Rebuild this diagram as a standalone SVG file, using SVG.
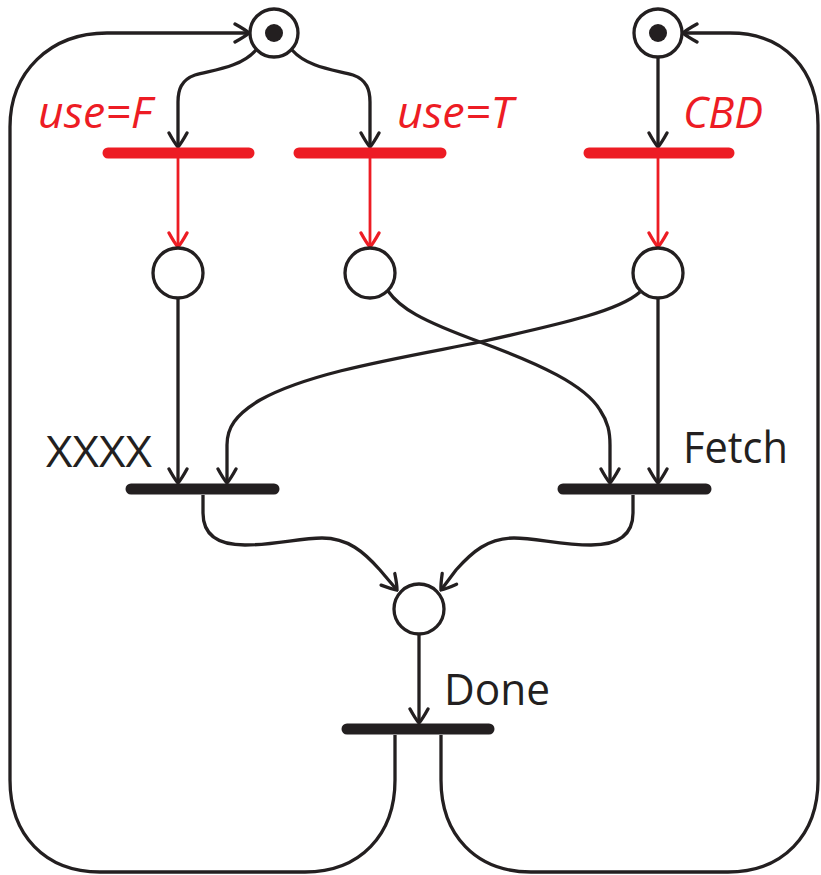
<svg xmlns="http://www.w3.org/2000/svg" width="821" height="875" viewBox="0 0 821 875">
<style>
.arc{fill:none;stroke:#231f20;stroke-width:3.3}
.red{fill:none;stroke:#ed1c24;stroke-width:2.8}
.place{fill:#fff;stroke:#231f20;stroke-width:3.3}
.tok{fill:#231f20}
.bar{stroke:#231f20;stroke-width:11;stroke-linecap:round}
.rbar{stroke:#ed1c24;stroke-width:11;stroke-linecap:round}
.lbl{font-family:"Open Sans","Noto Sans",sans-serif;font-size:44px;fill:#231f20}
.rlbl{font-family:"Open Sans","Noto Sans",sans-serif;font-size:44px;font-style:italic;fill:#ed1c24}
</style>
<defs>
<marker id="ah" markerUnits="userSpaceOnUse" viewBox="-18 -12 20 24" markerWidth="20" markerHeight="24" refX="0" refY="0" orient="auto">
<path d="M-14,-9 Q-4,-3.5 0,0 Q-4,3.5 -14,9" fill="none" stroke="#231f20" stroke-width="3.3" stroke-linecap="round"/>
</marker>
<marker id="ahr" markerUnits="userSpaceOnUse" viewBox="-18 -12 20 24" markerWidth="20" markerHeight="24" refX="0" refY="0" orient="auto">
<path d="M-14,-9 Q-4,-3.5 0,0 Q-4,3.5 -14,9" fill="none" stroke="#ed1c24" stroke-width="3.3" stroke-linecap="round"/>
</marker>
</defs>
<g id="connectors">
<path class="arc" d="M256,50 C240,68 212,70 195,75 C181,80 178,90 178,102 L178,147" marker-end="url(#ah)"/>
<path class="arc" d="M292,50 C308,68 336,70 353,75 C367,80 370,90 370,102 L370,147" marker-end="url(#ah)"/>
<path class="arc" d="M658,57 L658,147" marker-end="url(#ah)"/>
<path class="red" d="M178,153 L178,247" marker-end="url(#ahr)"/>
<path class="red" d="M370,153 L370,247" marker-end="url(#ahr)"/>
<path class="red" d="M658,153 L658,247" marker-end="url(#ahr)"/>
<path class="arc" d="M178,298 L178,483" marker-end="url(#ah)"/>
<path class="arc" d="M658,298 L658,483" marker-end="url(#ah)"/>
<path class="arc" d="M640,292 C620,310 570,322 480,342 C400,358 310,372 260,400 C235,415 227,428 227,445 L227,483" marker-end="url(#ah)"/>
<path class="arc" d="M388,291 C400,308 420,320 480,342 C540,364 585,385 600,410 C608,422 610,432 610,445 L610,483" marker-end="url(#ah)"/>
<path class="arc" d="M203,495 L203,513 C203,537 220,545 245,545 C275,545 300,538 322,538 C348,538 364,552 380,570 L397,590" marker-end="url(#ah)"/>
<path class="arc" d="M633,495 L633,513 C633,537 616,545 591,545 C561,545 536,538 514,538 C488,538 472,552 456,570 L441,590" marker-end="url(#ah)"/>
<path class="arc" d="M419,634 L419,723" marker-end="url(#ah)"/>
<path class="arc" d="M395,735 L395,780 C395,835 360,872 305,872 L100,872 C45,872 10,835 10,780 L10,127 C10,72 50,33 107,33 L249,33" marker-end="url(#ah)"/>
<path class="arc" d="M441,735 L441,780 C441,835 476,872 531,872 L728,872 C783,872 818,835 818,780 L818,125 C818,70 785,33 730,33 L683,33" marker-end="url(#ah)"/>
</g>
<g id="p_top_left"><circle class="place" cx="274" cy="33" r="24"/><circle class="tok" cx="274" cy="33" r="9"/></g>
<g id="p_top_right"><circle class="place" cx="658" cy="33" r="24"/><circle class="tok" cx="658" cy="33" r="9"/></g>
<g id="t_useF"><line class="rbar" x1="108" y1="153" x2="249" y2="153"/><text class="rlbl" x="38" y="128" textLength="114" lengthAdjust="spacingAndGlyphs">use=F</text></g>
<g id="t_useT"><line class="rbar" x1="299" y1="153" x2="441" y2="153"/><text class="rlbl" x="397" y="128" textLength="116" lengthAdjust="spacingAndGlyphs">use=T</text></g>
<g id="t_CBD"><line class="rbar" x1="589" y1="153" x2="729" y2="153"/><text class="rlbl" x="683" y="128" textLength="80" lengthAdjust="spacingAndGlyphs">CBD</text></g>
<g id="p1"><circle class="place" cx="178" cy="273" r="25"/></g>
<g id="p2"><circle class="place" cx="370" cy="273" r="25"/></g>
<g id="p3"><circle class="place" cx="658" cy="273" r="25"/></g>
<g id="t_XXXX"><line class="bar" x1="131" y1="489" x2="274" y2="489"/><text class="lbl" x="46" y="467" textLength="106" lengthAdjust="spacingAndGlyphs">XXXX</text></g>
<g id="t_Fetch"><line class="bar" x1="563" y1="489" x2="706" y2="489"/><text class="lbl" x="683" y="463" textLength="105" lengthAdjust="spacingAndGlyphs">Fetch</text></g>
<g id="p4"><circle class="place" cx="419" cy="609" r="25"/></g>
<g id="t_Done"><line class="bar" x1="347" y1="729" x2="489" y2="729"/><text class="lbl" x="444" y="705" textLength="106" lengthAdjust="spacingAndGlyphs">Done</text></g>
</svg>
